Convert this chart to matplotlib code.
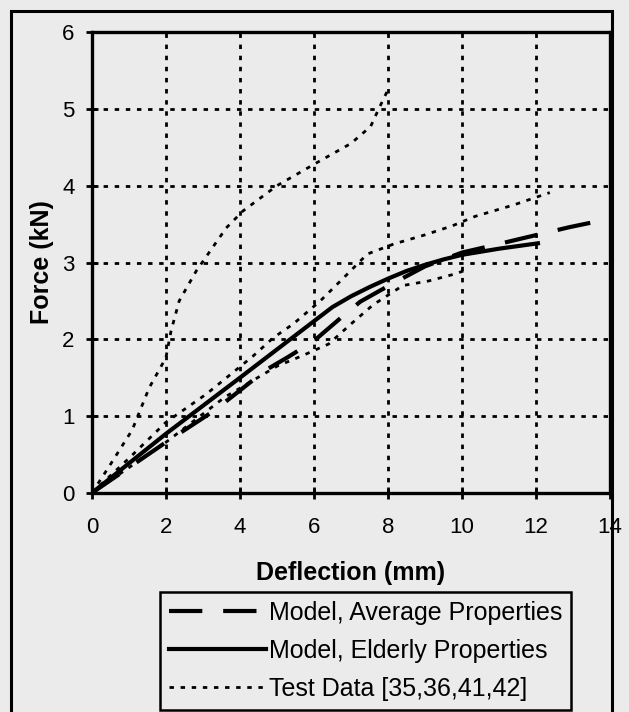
import matplotlib
matplotlib.use("Agg")
import matplotlib.pyplot as plt
from matplotlib.patches import Rectangle

plt.rcParams.update({
    "font.family": "Liberation Sans",
    "font.size": 16,
    "axes.unicode_minus": False,
})

# Model curves (deflection in mm, force in kN)
average_x = [0, 2, 3.3, 4.7, 5.3, 6.0, 6.8, 7.25, 8.1, 9.0, 10.0, 10.9, 11.5, 12.9, 14.0]
average_y = [0, 0.66, 1.07, 1.6, 1.77, 1.98, 2.31, 2.49, 2.72, 2.95, 3.13, 3.23, 3.3, 3.46, 3.57]

elderly_x = [0, 2, 4, 6.2, 6.5, 7, 7.5, 8, 8.5, 9, 9.5, 10, 11, 12.05]
elderly_y = [0, 0.77, 1.5, 2.31, 2.42, 2.56, 2.68, 2.79, 2.89, 2.97, 3.04, 3.1, 3.18, 3.25]

# Test specimens
test_a_x = [0, 0.46, 1.09, 1.55, 2.0, 2.14, 2.36, 2.82, 3.63, 4.08, 5.0, 6.08, 7.0, 7.53, 7.75, 8.0]
test_a_y = [0, 0.34, 0.82, 1.37, 1.76, 2.11, 2.5, 2.89, 3.45, 3.67, 4.0, 4.3, 4.55, 4.77, 5.0, 5.25]

test_b_x = [0, 1, 2, 3.1, 4.35, 4.9, 5.44, 6.17, 6.8, 7.44, 8.15, 9.0, 9.75, 10.35, 11.4, 12.37]
test_b_y = [0, 0.45, 0.92, 1.29, 1.78, 2.02, 2.2, 2.5, 2.8, 3.11, 3.24, 3.36, 3.48, 3.6, 3.75, 3.91]

test_c_x = [0, 2, 3.6, 5.0, 5.7, 6.4, 7.0, 7.6, 8.4, 9.1, 9.8, 10.1]
test_c_y = [0, 0.66, 1.25, 1.65, 1.79, 1.94, 2.2, 2.45, 2.7, 2.76, 2.85, 2.9]

x_ticks = [0, 2, 4, 6, 8, 10, 12, 14]
y_ticks = [0, 1, 2, 3, 4, 5, 6]

BG = "#ebebeb"
DOT = (0, (1.6, 2.4))


def main():
    fig = plt.figure(figsize=(6.29, 7.12), dpi=100, facecolor=BG)
    ax = fig.add_axes([0.146, 0.3076, 0.824, 0.6474])
    ax.set_facecolor(BG)

    ax.plot(average_x, average_y, color="black", linewidth=3.0,
            dashes=(8, 5), label="Model, Average Properties", zorder=4)
    ax.plot(elderly_x, elderly_y, color="black", linewidth=3.0,
            label="Model, Elderly Properties", zorder=4)
    ax.plot(test_a_x, test_a_y, color="black", linewidth=2.0,
            linestyle=DOT, label="Test Data [35,36,41,42]", zorder=3)
    ax.plot(test_b_x, test_b_y, color="black", linewidth=2.0, linestyle=DOT, zorder=3)
    ax.plot(test_c_x, test_c_y, color="black", linewidth=2.0, linestyle=DOT, zorder=3)

    ax.set_xlim(0, 14)
    ax.set_ylim(0, 6)
    ax.set_xticks(x_ticks)
    ax.set_yticks(y_ticks)
    ax.grid(True, color="black", linewidth=2.0, linestyle=DOT)
    ax.set_axisbelow(True)
    ax.tick_params(direction="inout", length=9, width=2.0, labelsize=16)
    ax.tick_params(axis="x", pad=13)
    ax.tick_params(axis="y", pad=8)
    for sp in ax.spines.values():
        sp.set_linewidth(2.4)

    ax.set_xlabel("Deflection (mm)", fontsize=18, fontweight="bold", labelpad=16)
    ax.set_ylabel("Force (kN)", fontsize=18, fontweight="bold", labelpad=6)

    leg = ax.legend(loc="upper left", bbox_to_anchor=(0.254, 0.1685),
                    bbox_transform=fig.transFigure, fontsize=18,
                    handlelength=3.9, handletextpad=0.1, labelspacing=0.56,
                    borderpad=0.35, borderaxespad=0, frameon=True, fancybox=False)
    leg.get_frame().set_edgecolor("black")
    leg.get_frame().set_linewidth(1.8)
    leg.get_frame().set_facecolor(BG)
    leg.get_frame().set_alpha(1)

    # outer border around the figure panel
    fig.patches.append(Rectangle((0.0175, -0.05), 0.9555, 1.0346, fill=False,
                                 edgecolor="black", linewidth=2.2,
                                 transform=fig.transFigure, figure=fig))

    fig.savefig("out.png", dpi=100, facecolor=BG)


if __name__ == "__main__":
    main()
